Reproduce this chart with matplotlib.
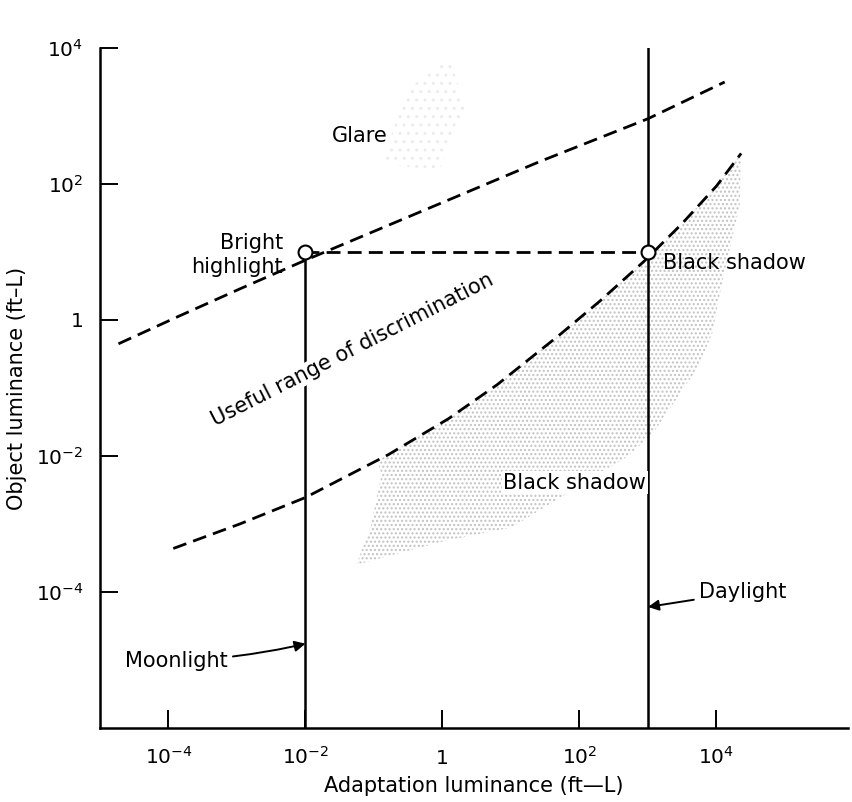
import numpy as np
import matplotlib.pyplot as plt
from matplotlib.patches import Polygon

plt.rcParams["font.family"] = "DejaVu Sans"
plt.rcParams["mathtext.default"] = "regular"
plt.rcParams["hatch.linewidth"] = 1.0

# readings from the picture, in log10 units (x = adaptation, y = object luminance)
upper_lx = [-4.73, -3.84, -2.93, -2.0, 1.42, 3.0, 4.12]
upper_ly = [-0.35, 0.06, 0.47, 0.88, 2.33, 2.96, 3.5]

lower_lx = [-3.93, -2.96, -2.0, -0.79, 0.09, 0.80, 1.72, 2.3, 2.95, 3.5, 4.0, 4.36]
lower_ly = [-3.36, -3.0, -2.61, -1.98, -1.45, -0.95, -0.21, 0.28, 0.87, 1.42, 1.97, 2.45]

# black shadow stipple outline (below the lower curve)
shade_lx = [-0.95, 0.09, 0.80, 1.72, 2.3, 2.95, 3.5, 4.0, 4.36, 4.34, 4.09, 3.94, 3.74,
            3.07, 2.70, 1.01, -0.01, -1.26, -1.05, -0.89]
shade_ly = [-2.07, -1.45, -0.95, -0.21, 0.28, 0.87, 1.42, 1.97, 2.45, 1.69, 0.59, -0.19, -0.68,
            -1.67, -2.01, -3.05, -3.26, -3.6, -3.05, -2.27]

# faint glare stipple
glare_lx = [-0.9, -0.05, 0.35, 0.1, -0.5]
glare_ly = [2.3, 2.2, 3.1, 3.85, 3.4]

moon_x = 1e-2
day_x = 1e3
highlight_y = 10.0

xticks = [1e-4, 1e-2, 1, 1e2, 1e4]
xticklabels = ["$10^{-4}$", "$10^{-2}$", "1", "$10^{2}$", "$10^{4}$"]
yticks = [1e-4, 1e-2, 1, 1e2, 1e4]
yticklabels = ["$10^{-4}$", "$10^{-2}$", "1", "$10^{2}$", "$10^{4}$"]


def tolin(a):
    return np.power(10.0, np.asarray(a, dtype=float))


fig = plt.figure(figsize=(8.52, 8.02), dpi=100)
fig.patch.set_facecolor("white")
ax = fig.add_axes([100 / 852, 74 / 802, 748 / 852, 680 / 802])
ax.set_xscale("log")
ax.set_yscale("log")
ax.set_xlim(1e-5, 10 ** 5.92)
ax.set_ylim(1e-6, 1e4)

for s in ("top", "right"):
    ax.spines[s].set_visible(False)
for s in ("left", "bottom"):
    ax.spines[s].set_linewidth(1.8)

ax.set_xticks(xticks)
ax.set_xticklabels(xticklabels)
ax.set_yticks(yticks)
ax.set_yticklabels(yticklabels)
ax.minorticks_off()
ax.tick_params(direction="in", length=13, width=1.4, labelsize=14.5)
ax.tick_params(axis="x", pad=26)
ax.tick_params(axis="y", pad=12)
for lab in ax.get_xticklabels():
    lab.set_verticalalignment("baseline")
ax.set_xlabel("Adaptation luminance (ft\u2014L)", fontsize=15, labelpad=6)
ax.set_ylabel("Object luminance (ft\u2013L)", fontsize=15, labelpad=6)

# stipple regions
ax.add_patch(Polygon(np.column_stack([tolin(shade_lx), tolin(shade_ly)]), closed=True,
                     facecolor="none", edgecolor="#c2c2c2", linewidth=0, hatch="....", zorder=1))
ax.add_patch(Polygon(np.column_stack([tolin(glare_lx), tolin(glare_ly)]), closed=True,
                     facecolor="none", edgecolor="#ececec", linewidth=0, hatch="..", zorder=1))

dash = dict(color="black", linewidth=2.0, dashes=(5, 2.6), zorder=3)
ax.plot(tolin(upper_lx), tolin(upper_ly), **dash)
ax.plot(tolin(lower_lx), tolin(lower_ly), **dash)
ax.plot([moon_x, day_x], [highlight_y, highlight_y], **dash)

# illumination lines
ax.plot([moon_x, moon_x], [1e-6, highlight_y], color="black", linewidth=1.8, zorder=2)
ax.plot([day_x, day_x], [1e-6, 1e4], color="black", linewidth=1.8, zorder=2)

ax.plot([moon_x, day_x], [highlight_y, highlight_y], linestyle="none", marker="o",
        markersize=10, markerfacecolor="white", markeredgecolor="black", markeredgewidth=1.5,
        zorder=6, clip_on=False)

# labels
txt = dict(fontsize=15, color="black", zorder=5)
ax.text(10 ** -1.21, 10 ** 2.71, "Glare", ha="center", va="center", **txt)
ax.text(10 ** -2.33, 10 ** 0.95, "Bright\nhighlight", ha="right", va="center",
        linespacing=1.25, **txt)
ax.text(10 ** 3.22, 10 ** 0.84, "Black shadow", ha="left", va="center", **txt)
ax.text(10 ** 1.93, 10 ** -2.39, "Black shadow", ha="center", va="center",
        bbox=dict(facecolor="white", edgecolor="none", pad=1.0), **txt)
ax.text(10 ** -1.31, 10 ** -0.44, "Useful range of discrimination", ha="center", va="center",
        rotation=27, rotation_mode="anchor",
        bbox=dict(facecolor="white", edgecolor="none", pad=0.5), **txt)

arrow = dict(arrowstyle="-|>", color="black", lw=1.4, mutation_scale=16, shrinkA=2, shrinkB=0)
ax.annotate("Moonlight", xy=(moon_x, 10 ** -4.76), xytext=(10 ** -3.14, 10 ** -5.01),
            ha="right", va="center", fontsize=15,
            arrowprops=dict(connectionstyle="arc3,rad=0.05", **arrow))
ax.annotate("Daylight", xy=(day_x, 10 ** -4.22), xytext=(10 ** 3.75, 10 ** -4.0),
            ha="left", va="center", fontsize=15,
            arrowprops=dict(connectionstyle="arc3,rad=0.0", **arrow))

fig.savefig("out.png", dpi=100, facecolor="white")
